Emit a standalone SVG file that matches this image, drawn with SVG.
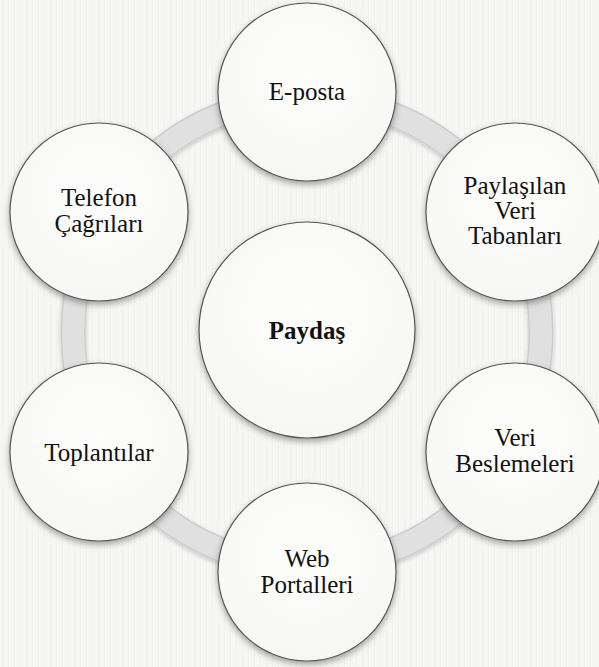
<svg xmlns="http://www.w3.org/2000/svg" width="599" height="667" viewBox="0 0 599 667">
  <defs>
    <filter id="shadow" x="-20%" y="-20%" width="140%" height="150%">
      <feDropShadow dx="0" dy="3" stdDeviation="3" flood-color="#000" flood-opacity="0.35"/>
    </filter>
    <filter id="ringShadow" x="-10%" y="-10%" width="120%" height="120%">
      <feDropShadow dx="0" dy="2" stdDeviation="2" flood-color="#000" flood-opacity="0.2"/>
    </filter>
    <radialGradient id="nodeFill" cx="50%" cy="40%" r="60%">
      <stop offset="0" stop-color="#fdfdfc"/>
      <stop offset="1" stop-color="#f7f7f5"/>
    </radialGradient>
    <pattern id="paper" width="6" height="6" patternUnits="userSpaceOnUse">
      <rect width="6" height="6" fill="#f6f6f4"/>
      <rect x="2" width="1" height="6" fill="#f1f1ef"/>
    </pattern>
  </defs>
  <style>
    .node { fill: url(#nodeFill); stroke: #555; stroke-width: 1.2; filter: url(#shadow); }
    .label { font-size: 25px; fill: #111; text-anchor: middle; }
    .bold { font-weight: bold; }
  </style>

  <!-- background -->
  <rect width="599" height="667" fill="url(#paper)"/>

  <!-- connecting ring -->
  <g id="connectors">
    <circle cx="307" cy="332" r="234" fill="none" stroke="#cdcdcd" stroke-width="25" filter="url(#ringShadow)"/>
    <circle cx="307" cy="332" r="234" fill="none" stroke="#e0e0e0" stroke-width="22"/>
  </g>

  <g font-family="'Liberation Serif', 'DejaVu Serif', serif">
    <g id="node-center">
      <circle class="node" cx="307" cy="330" r="108"/>
      <text class="label bold" x="307" y="339">Paydaş</text>
    </g>

    <g id="node-eposta">
      <circle class="node" cx="307" cy="92" r="89"/>
      <text class="label" x="307" y="100">E-posta</text>
    </g>

    <g id="node-paylasilan">
      <circle class="node" cx="515" cy="212" r="89"/>
      <text class="label" x="515" y="194">Paylaşılan</text>
      <text class="label" x="515" y="219">Veri</text>
      <text class="label" x="515" y="244">Tabanları</text>
    </g>

    <g id="node-veri-beslemeleri">
      <circle class="node" cx="515" cy="452" r="89"/>
      <text class="label" x="515" y="446">Veri</text>
      <text class="label" x="515" y="472">Beslemeleri</text>
    </g>

    <g id="node-web-portalleri">
      <circle class="node" cx="307" cy="572" r="89"/>
      <text class="label" x="307" y="567">Web</text>
      <text class="label" x="307" y="593">Portalleri</text>
    </g>

    <g id="node-toplantilar">
      <circle class="node" cx="99" cy="452" r="89"/>
      <text class="label" x="99" y="461">Toplantılar</text>
    </g>

    <g id="node-telefon">
      <circle class="node" cx="99" cy="212" r="89"/>
      <text class="label" x="99" y="206">Telefon</text>
      <text class="label" x="99" y="232">Çağrıları</text>
    </g>
  </g>
</svg>
